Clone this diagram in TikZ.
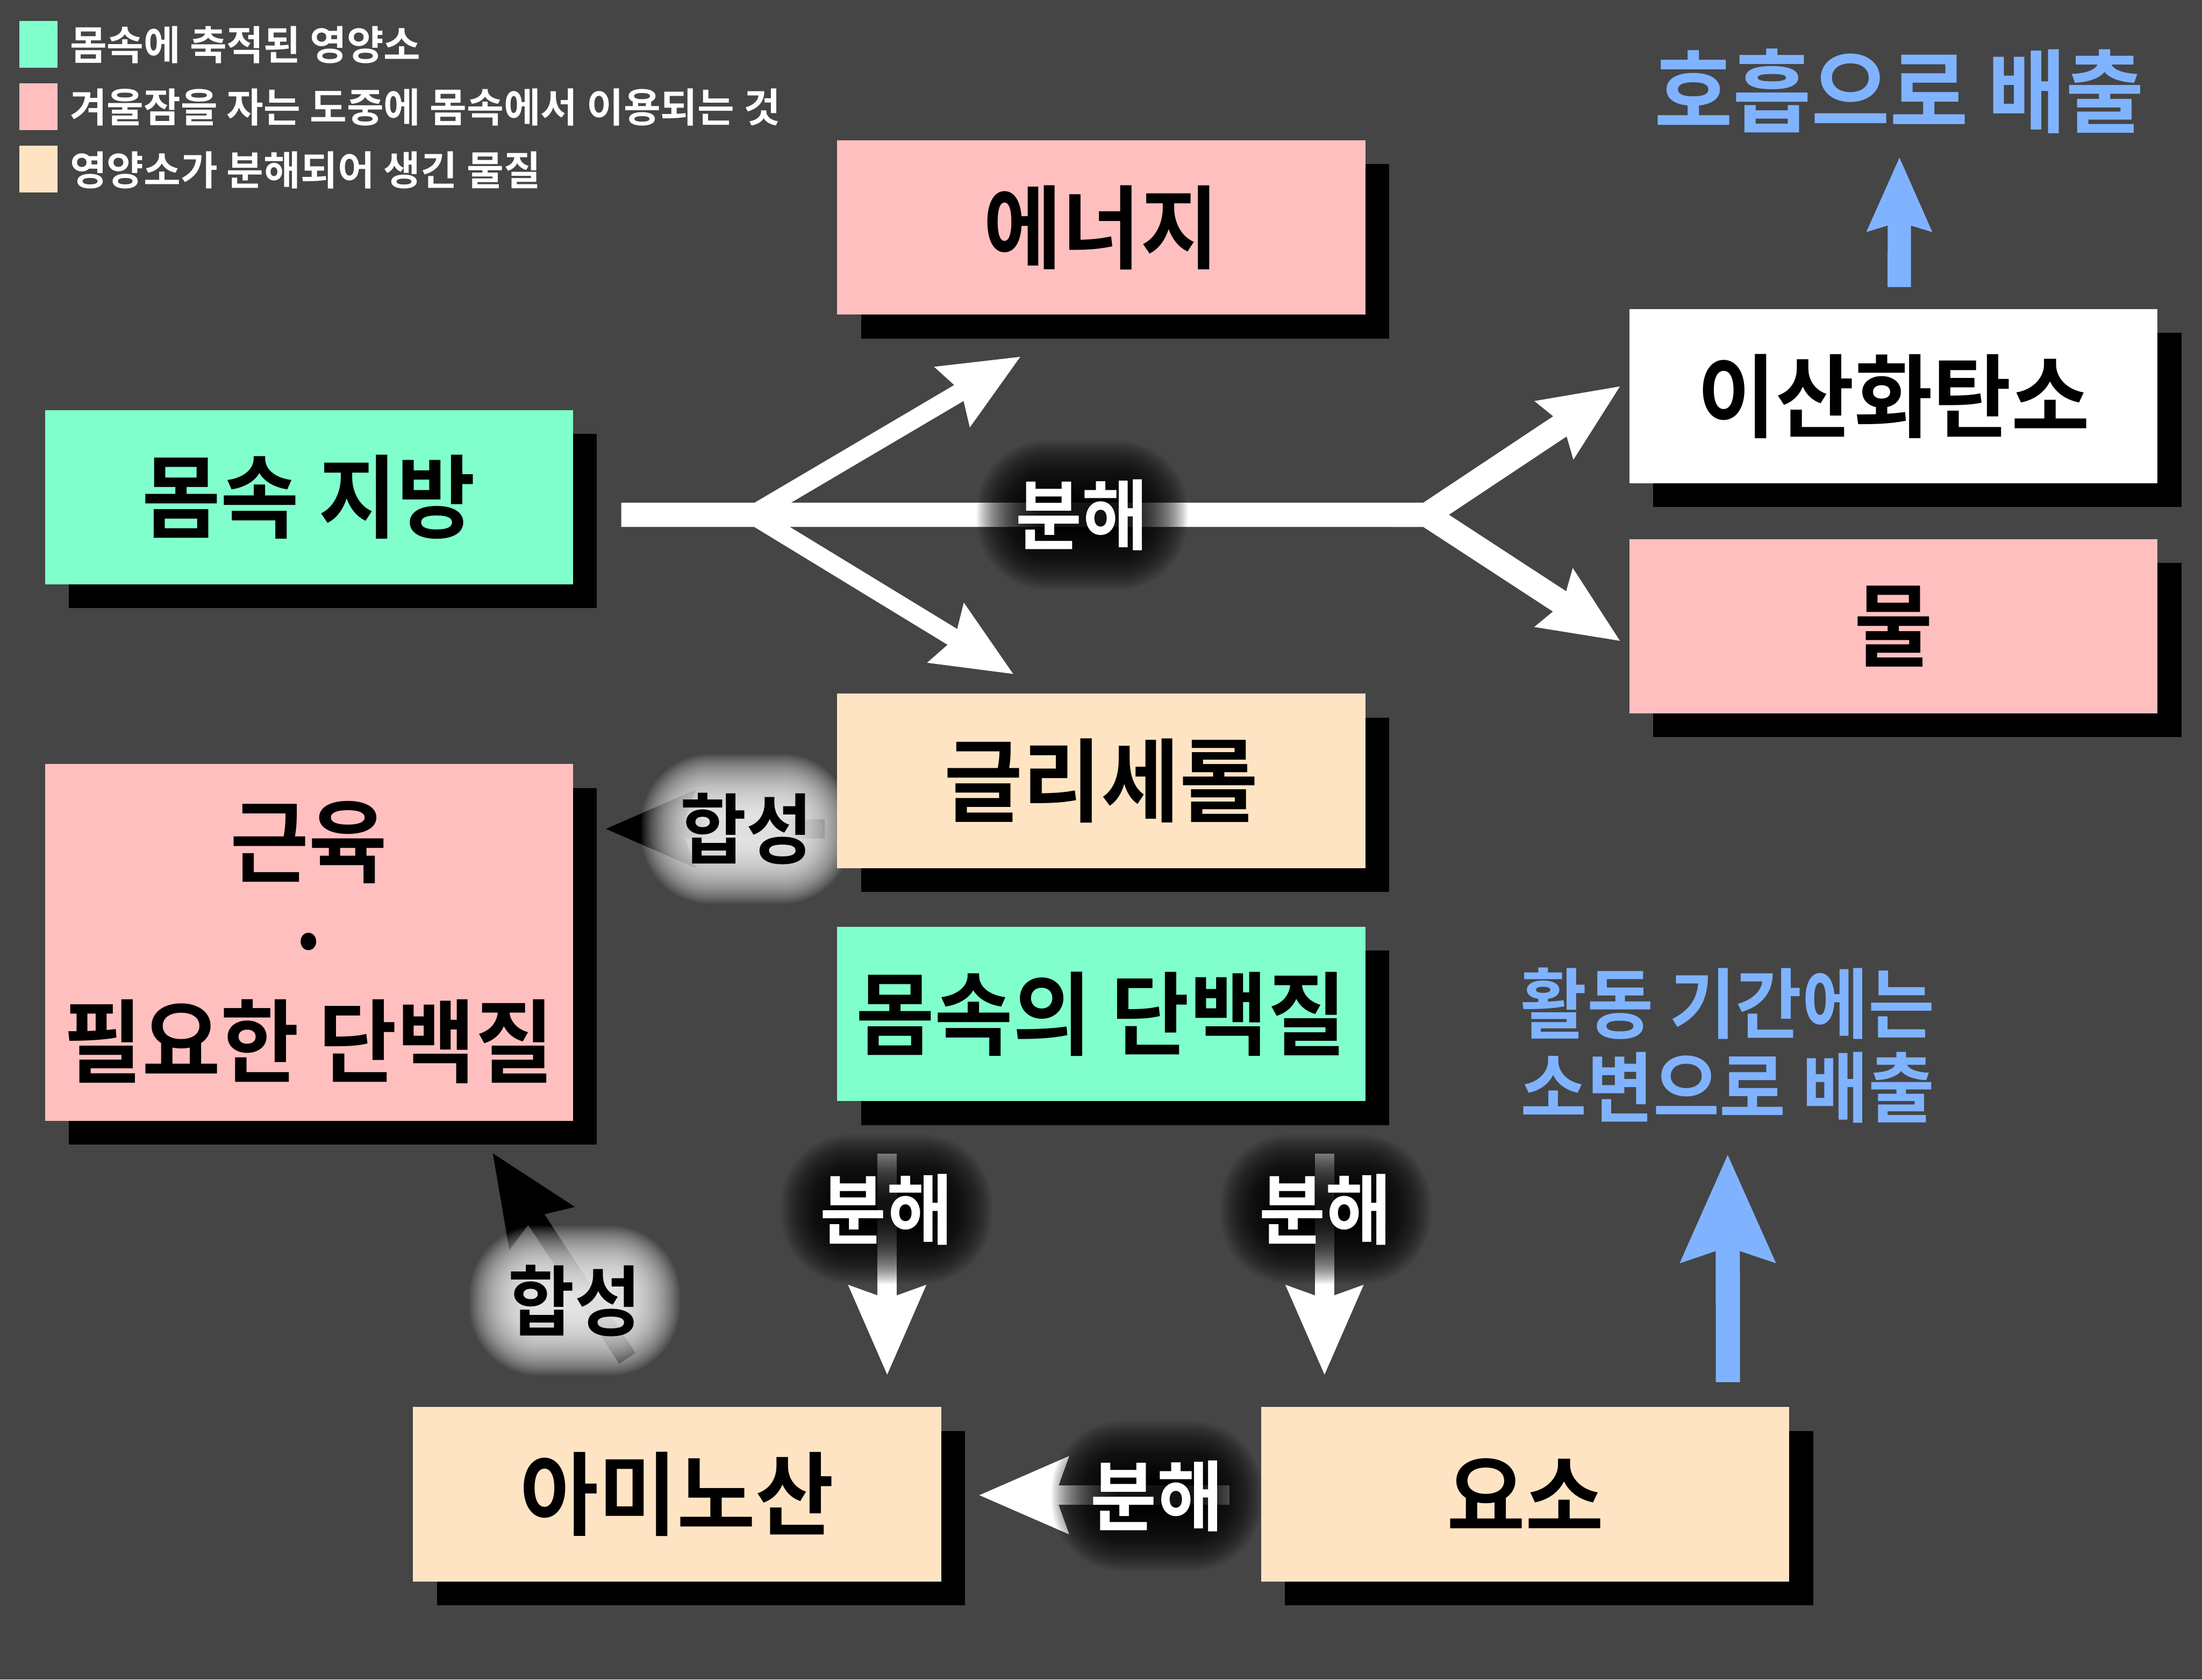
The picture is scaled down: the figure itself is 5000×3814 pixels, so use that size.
\documentclass[tikz,border=0pt]{standalone}
\usepackage{fontspec}
\newfontfamily\krleg{Noto Sans CJK KR Bold}
\newfontfamily\krnar{Noto Sans CJK KR Bold}[FakeStretch=0.94]
\usetikzlibrary{arrows.meta,calc,shadows}
\definecolor{bgc}{RGB}{69,69,69}
\definecolor{greenc}{RGB}{128,255,204}
\definecolor{pinkc}{RGB}{255,191,191}
\definecolor{peachc}{RGB}{255,228,196}
\definecolor{bluec}{RGB}{128,179,255}
\pgfdeclarelayer{arrowlayer}
\pgfdeclarelayer{glowlayer}
\pgfsetlayers{arrowlayer,glowlayer,main}
\newcommand\glowat[2]{%
  \foreach \k in {0,...,37}{%
    \pgfmathsetmacro\pd{-60+\k*4}%
    \pgfmathsetmacro\rc{max(2.5,(70+\pd)/4)}%
    \fill[#2, fill opacity=0.06, rounded corners=\rc pt]
      ($(#1.south west)+(-\pd,\pd)$) rectangle ($(#1.north east)+(\pd,-\pd)$);
  }%
}
\begin{document}
\begin{tikzpicture}[x=0.25pt,y=-0.25pt,
  box/.style={rectangle, inner sep=0pt, minimum width=299.75pt, minimum height=99pt,
    align=center, text=black, font=\krnar\fontsize{51.5}{56.75}\selectfont,
    drop shadow={shadow xshift=13.5pt, shadow yshift=-13.5pt, opacity=1, fill=black}},
  legsq/.style={rectangle, inner sep=0pt, minimum width=21.75pt, minimum height=26.5pt},
  legtxt/.style={anchor=west, inner sep=0pt, text=white, font=\krleg\fontsize{22.8}{27}\selectfont},
  lblw/.style={inner sep=0pt, text=white, font=\krnar\fontsize{43.5}{48}\selectfont},
  lblb/.style={lblw, text=black},
  bluetxt/.style={text=bluec, inner sep=0pt, align=center},
  wbar/.style={draw=white, line width=13.75pt, -{Stealth[length=45pt, width=40pt, inset=6.25pt, line width=0pt]}},
  wfork/.style={wbar, line width=10.5pt},
  wvert/.style={draw=white, line width=11pt, -{Stealth[length=51pt, width=44.5pt, inset=8pt, line width=0pt]}},
  bsyn/.style={wvert, draw=black},
  bluetop/.style={draw=bluec, line width=13.25pt, -{Stealth[length=42.25pt, width=37.5pt, inset=5.75pt, line width=0pt]}},
  bluebot/.style={draw=bluec, line width=13.75pt, -{Stealth[length=61.5pt, width=54.75pt, inset=9.25pt, line width=0pt]}}
]
\useasboundingbox (0,0) rectangle (5000,3814);
\begin{pgfonlayer}{arrowlayer}
\fill[bgc] (0,0) rectangle (5000,3814);
\end{pgfonlayer}

% legend
\node[legsq, fill=greenc] (sq1) at (87.5,101) {};
\node[legsq, fill=pinkc] (sq2) at (87.5,242.5) {};
\node[legsq, fill=peachc] (sq3) at (87.5,384) {};
\node[legtxt] (lg1) at (158,102) {몸속에 축적된 영양소};
\node[legtxt] (lg2) at (158,243) {겨울잠을 자는 도중에 몸속에서 이용되는 것};
\node[legtxt] (lg3) at (158,386) {영양소가 분해되어 생긴 물질};

% boxes
\node[box, fill=pinkc] (ene) at (2500.5,516.5) {에너지};
\node[box, fill=greenc] (fat) at (701.5,1129) {몸속 지방};
\node[box, fill=white] (co2) at (4299.5,899.5) {이산화탄소};
\node[box, fill=pinkc] (water) at (4299.5,1422) {물};
\node[box, fill=peachc] (gly) at (2500.5,1773) {글리세롤};
\node[box, fill=pinkc, minimum height=202.5pt] (mus) at (701.5,2140) {근육\\·\\필요한 단백질};
\node[box, fill=greenc] (prot) at (2500.5,2302.5) {몸속의 단백질};
\node[box, fill=peachc] (ami) at (1537.5,3393) {아미노산};
\node[box, fill=peachc] (urea) at (3463.5,3393) {요소};

% blue texts
\node[bluetxt, font=\krnar\fontsize{51.5}{56}\selectfont] (resp) at (4313,207) {호흡으로 배출};
\node[bluetxt, font=\krnar\fontsize{43.5}{47.75}\selectfont] (urine) at (3923,2374) {활동 기간에는\\소변으로 배출};

% labels
\node[lblw] (d1) at (2457,1170) {분해};
\node[lblw] (d2) at (2013,2746) {분해};
\node[lblw] (d3) at (3010,2746) {분해};
\node[lblw] (d4) at (2627,3397) {분해};
\node[lblb] (s1) at (1695,1882) {합성};
\node[lblb] (s2) at (1305,2953) {합성};

% glows
\begin{pgfonlayer}{glowlayer}
\glowat{d1}{black}
\glowat{d2}{black}
\glowat{d3}{black}
\glowat{d4}{black}
\glowat{s1}{white}
\glowat{s2}{white}
\end{pgfonlayer}

% arrows
\begin{pgfonlayer}{arrowlayer}
\coordinate (barS) at ($(fat.east)+(109,40)$);
\coordinate (forkL) at (1708,1169);
\coordinate (forkR) at (3240,1169);
\coordinate (eneT) at ($(ene.south)+(-184,95)$);
\coordinate (glyT) at ($(gly.north)+(-200,-44)$);
\coordinate (co2T) at ($(co2.west)+(-21,-22)$);
\coordinate (watT) at ($(water.west)+(-21,33)$);
\draw[wbar] (barS) -- (forkR) -- (co2T);
\draw[wbar] ($(forkR)+(-80,0)$) -- (forkR) -- (watT);
\draw[wfork] (forkL) -- (eneT);
\draw[wfork] (forkL) -- (glyT);
\draw[wvert] ($(prot.south)+(-486,118)$) -- ($(ami.north)+(477,-73)$);
\draw[wvert] ($(prot.south)+(507,118)$) -- ($(urea.north)+(-456,-73)$);
\draw[wvert] ($(urea.west)+(-71,2)$) -- ($(ami.east)+(86,2)$);
\draw[bsyn] ($(gly.west)+(-28,109)$) -- ($(mus.east)+(74,-258)$);
\draw[bsyn] ($(ami.north)+(-113,-110)$) -- ($(mus.south)+(417.5,73)$);
\draw[bluetop] ($(co2.north)+(13,-49)$) -- ($(resp.south)+(0,54)$);
\draw[bluebot] ($(urea.north)+(460,-56)$) -- ($(urine.south)+(0,71)$);
\end{pgfonlayer}
\end{tikzpicture}
\end{document}
